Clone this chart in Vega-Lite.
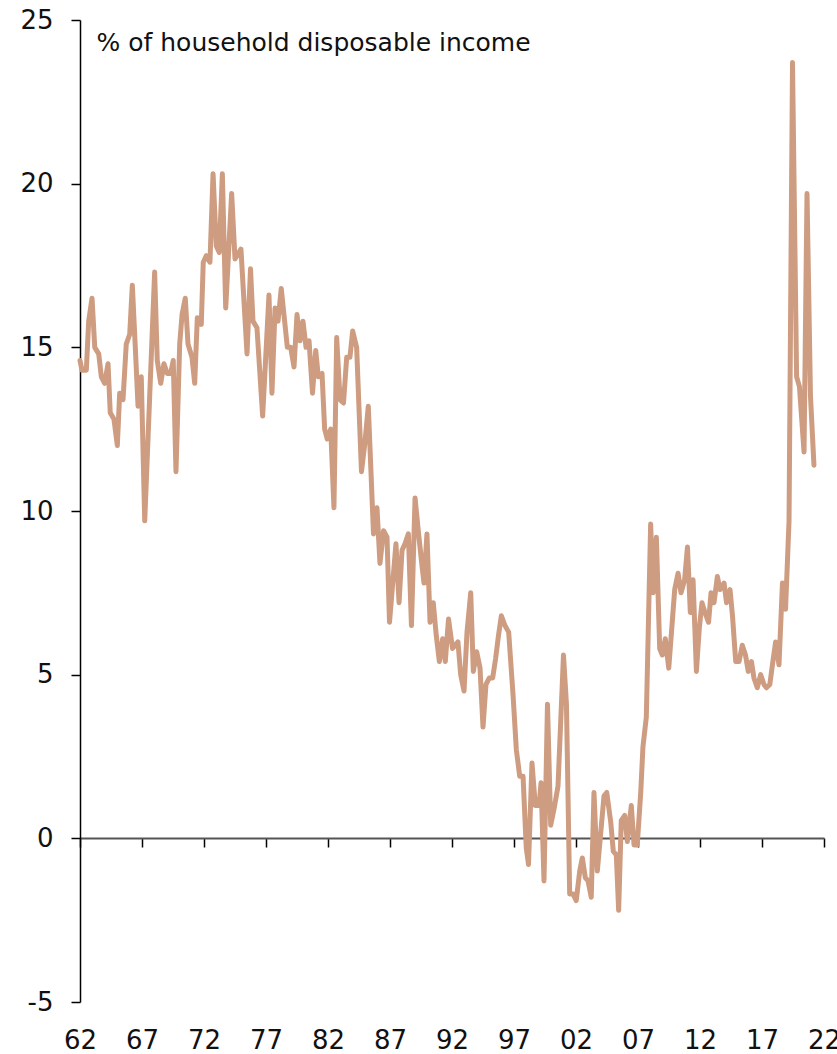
{
  "$schema": "https://vega.github.io/schema/vega-lite/v6.json",
  "width": 744,
  "height": 982,
  "autosize": {"type": "none"},
  "padding": {"left": 80, "top": 20, "right": 13, "bottom": 52},
  "background": "white",
  "config": {"view": {"stroke": null}, "font": "DejaVu Sans"},
  "data": {"values": [
    {"t":1962.00,"v":14.6},{"t":1962.16,"v":14.3},{"t":1962.51,"v":14.3},{"t":1962.70,"v":15.8},{"t":1962.97,"v":16.5},
    {"t":1963.19,"v":15.0},{"t":1963.51,"v":14.8},{"t":1963.72,"v":14.1},{"t":1963.99,"v":13.9},{"t":1964.26,"v":14.5},
    {"t":1964.44,"v":13.0},{"t":1964.74,"v":12.8},{"t":1965.01,"v":12.0},{"t":1965.20,"v":13.6},{"t":1965.47,"v":13.4},
    {"t":1965.73,"v":15.1},{"t":1966.01,"v":15.4},{"t":1966.22,"v":16.9},{"t":1966.46,"v":15.0},{"t":1966.68,"v":13.2},
    {"t":1966.94,"v":14.1},{"t":1967.22,"v":9.7},{"t":1967.62,"v":13.5},{"t":1968.02,"v":17.3},{"t":1968.23,"v":14.6},
    {"t":1968.51,"v":13.9},{"t":1968.77,"v":14.5},{"t":1969.04,"v":14.2},{"t":1969.31,"v":14.2},{"t":1969.52,"v":14.6},
    {"t":1969.74,"v":11.2},{"t":1970.04,"v":15.1},{"t":1970.23,"v":16.0},{"t":1970.49,"v":16.5},{"t":1970.71,"v":15.1},
    {"t":1971.03,"v":14.7},{"t":1971.25,"v":13.9},{"t":1971.46,"v":15.9},{"t":1971.78,"v":15.7},{"t":1971.94,"v":17.6},
    {"t":1972.19,"v":17.8},{"t":1972.48,"v":17.6},{"t":1972.73,"v":20.3},{"t":1972.99,"v":18.1},{"t":1973.23,"v":17.9},
    {"t":1973.48,"v":20.3},{"t":1973.75,"v":16.2},{"t":1974.23,"v":19.7},{"t":1974.50,"v":17.7},{"t":1974.98,"v":18.0},
    {"t":1975.47,"v":14.8},{"t":1975.75,"v":17.4},{"t":1975.95,"v":15.8},{"t":1976.27,"v":15.6},{"t":1976.73,"v":12.9},
    {"t":1977.24,"v":16.6},{"t":1977.48,"v":13.6},{"t":1977.73,"v":16.2},{"t":1977.97,"v":15.8},{"t":1978.23,"v":16.8},
    {"t":1978.72,"v":15.0},{"t":1978.99,"v":15.0},{"t":1979.26,"v":14.4},{"t":1979.50,"v":16.0},{"t":1979.74,"v":15.2},
    {"t":1979.98,"v":15.8},{"t":1980.23,"v":15.0},{"t":1980.47,"v":15.2},{"t":1980.75,"v":13.6},{"t":1981.01,"v":14.9},
    {"t":1981.22,"v":14.1},{"t":1981.52,"v":14.2},{"t":1981.73,"v":12.5},{"t":1981.94,"v":12.2},{"t":1982.22,"v":12.5},
    {"t":1982.48,"v":10.1},{"t":1982.70,"v":15.3},{"t":1982.97,"v":13.4},{"t":1983.25,"v":13.3},{"t":1983.51,"v":14.7},
    {"t":1983.77,"v":14.7},{"t":1983.99,"v":15.5},{"t":1984.31,"v":15.0},{"t":1984.70,"v":11.2},{"t":1984.98,"v":12.1},
    {"t":1985.25,"v":13.2},{"t":1985.67,"v":9.3},{"t":1985.95,"v":10.1},{"t":1986.19,"v":8.4},{"t":1986.48,"v":9.4},
    {"t":1986.76,"v":9.2},{"t":1986.96,"v":6.6},{"t":1987.48,"v":9.0},{"t":1987.73,"v":7.2},{"t":1987.97,"v":8.8},
    {"t":1988.21,"v":9.0},{"t":1988.48,"v":9.3},{"t":1988.73,"v":6.5},{"t":1989.02,"v":10.4},{"t":1989.28,"v":9.4},
    {"t":1989.56,"v":8.4},{"t":1989.74,"v":7.8},{"t":1989.98,"v":9.3},{"t":1990.23,"v":6.6},{"t":1990.49,"v":7.2},
    {"t":1990.73,"v":6.2},{"t":1990.98,"v":5.4},{"t":1991.25,"v":6.1},{"t":1991.46,"v":5.4},{"t":1991.72,"v":6.7},
    {"t":1992.04,"v":5.8},{"t":1992.48,"v":6.0},{"t":1992.70,"v":5.0},{"t":1992.97,"v":4.5},{"t":1993.21,"v":6.3},
    {"t":1993.51,"v":7.5},{"t":1993.72,"v":5.1},{"t":1993.99,"v":5.7},{"t":1994.26,"v":5.2},{"t":1994.50,"v":3.4},
    {"t":1994.74,"v":4.7},{"t":1995.01,"v":4.9},{"t":1995.28,"v":4.9},{"t":1995.52,"v":5.5},{"t":1995.75,"v":6.2},
    {"t":1995.98,"v":6.8},{"t":1996.27,"v":6.5},{"t":1996.57,"v":6.3},{"t":1996.92,"v":4.4},{"t":1997.19,"v":2.7},
    {"t":1997.46,"v":1.9},{"t":1997.73,"v":1.9},{"t":1997.99,"v":-0.3},{"t":1998.17,"v":-0.8},{"t":1998.45,"v":2.3},
    {"t":1998.72,"v":1.0},{"t":1999.02,"v":1.0},{"t":1999.18,"v":1.7},{"t":1999.42,"v":-1.3},{"t":1999.70,"v":4.1},
    {"t":1999.96,"v":0.4},{"t":2000.23,"v":0.9},{"t":2000.55,"v":1.6},{"t":2000.99,"v":5.6},{"t":2001.23,"v":4.1},
    {"t":2001.49,"v":-1.7},{"t":2001.76,"v":-1.7},{"t":2002.02,"v":-1.9},{"t":2002.30,"v":-1.0},{"t":2002.51,"v":-0.6},
    {"t":2002.75,"v":-1.2},{"t":2002.97,"v":-1.3},{"t":2003.23,"v":-1.8},{"t":2003.45,"v":1.4},{"t":2003.72,"v":-1.0},
    {"t":2003.99,"v":0.15},{"t":2004.26,"v":1.3},{"t":2004.48,"v":1.4},{"t":2004.80,"v":0.5},{"t":2005.01,"v":-0.4},
    {"t":2005.25,"v":-0.5},{"t":2005.44,"v":-2.2},{"t":2005.65,"v":0.55},{"t":2005.93,"v":0.7},{"t":2006.14,"v":-0.1},
    {"t":2006.46,"v":1.0},{"t":2006.68,"v":-0.2},{"t":2006.94,"v":-0.2},{"t":2007.22,"v":1.4},{"t":2007.40,"v":2.8},
    {"t":2007.67,"v":3.7},{"t":2008.02,"v":9.6},{"t":2008.21,"v":7.5},{"t":2008.48,"v":9.2},{"t":2008.75,"v":5.8},
    {"t":2008.96,"v":5.6},{"t":2009.20,"v":6.1},{"t":2009.48,"v":5.2},{"t":2009.70,"v":6.3},{"t":2009.96,"v":7.6},
    {"t":2010.23,"v":8.1},{"t":2010.47,"v":7.5},{"t":2010.76,"v":7.9},{"t":2010.99,"v":8.9},{"t":2011.22,"v":6.9},
    {"t":2011.44,"v":7.9},{"t":2011.71,"v":5.1},{"t":2011.94,"v":6.4},{"t":2012.16,"v":7.2},{"t":2012.40,"v":6.9},
    {"t":2012.69,"v":6.6},{"t":2012.89,"v":7.5},{"t":2013.13,"v":7.2},{"t":2013.40,"v":8.0},{"t":2013.61,"v":7.6},
    {"t":2013.94,"v":7.8},{"t":2014.14,"v":7.2},{"t":2014.42,"v":7.6},{"t":2014.62,"v":6.8},{"t":2014.88,"v":5.4},
    {"t":2015.15,"v":5.4},{"t":2015.41,"v":5.9},{"t":2015.67,"v":5.6},{"t":2015.89,"v":5.1},{"t":2016.15,"v":5.4},
    {"t":2016.35,"v":4.9},{"t":2016.62,"v":4.6},{"t":2016.89,"v":5.0},{"t":2017.16,"v":4.7},{"t":2017.36,"v":4.6},
    {"t":2017.63,"v":4.7},{"t":2017.84,"v":5.3},{"t":2018.10,"v":6.0},{"t":2018.37,"v":5.3},{"t":2018.65,"v":7.8},
    {"t":2018.90,"v":7.0},{"t":2019.18,"v":9.7},{"t":2019.46,"v":23.7},{"t":2019.79,"v":14.1},{"t":2020.02,"v":13.8},
    {"t":2020.39,"v":11.8},{"t":2020.63,"v":19.7},{"t":2020.91,"v":13.5},{"t":2021.19,"v":11.4}
  ]},
  "mark": {"type": "line", "color": "#CE9C80", "strokeWidth": 5, "strokeJoin": "round", "strokeCap": "round", "clip": false},
  "encoding": {
    "x": {
      "field": "t", "type": "quantitative",
      "scale": {"domain": [1962, 2022], "nice": false, "zero": false},
      "axis": {
        "orient": "bottom", "offset": -164, "zindex": 0,
        "values": [1962,1967,1972,1977,1982,1987,1992,1997,2002,2007,2012,2017,2022],
        "labelExpr": "substring(toString(datum.value), 2)",
        "title": null, "grid": false,
        "domainColor": "#555555", "domainWidth": 2,
        "tickColor": "#000000", "tickWidth": 1.5, "tickSize": 9,
        "labelPadding": 180, "labelFontSize": 26, "labelColor": "#111111", "labelFont": "DejaVu Sans",
        "labelFlush": false, "labelOverlap": false
      }
    },
    "y": {
      "field": "v", "type": "quantitative",
      "scale": {"domain": [-5, 25], "nice": false, "zero": false},
      "axis": {
        "values": [-5, 0, 5, 10, 15, 20, 25],
        "labelExpr": "toString(datum.value)",
        "grid": false, "zindex": 0,
        "domainColor": "#000000", "domainWidth": 1.5,
        "tickColor": "#000000", "tickWidth": 1.5, "tickSize": 9,
        "labelPadding": 18, "labelFontSize": 26, "labelColor": "#111111", "labelFont": "DejaVu Sans",
        "labelFlush": false, "labelOverlap": false,
        "title": "% of household disposable income",
        "titleAngle": 0, "titleAlign": "left", "titleBaseline": "alphabetic",
        "titleX": 16, "titleY": 30, "titleFontSize": 25, "titleFontWeight": "normal",
        "titleFont": "DejaVu Sans", "titleColor": "#111111"
      }
    }
  }
}
